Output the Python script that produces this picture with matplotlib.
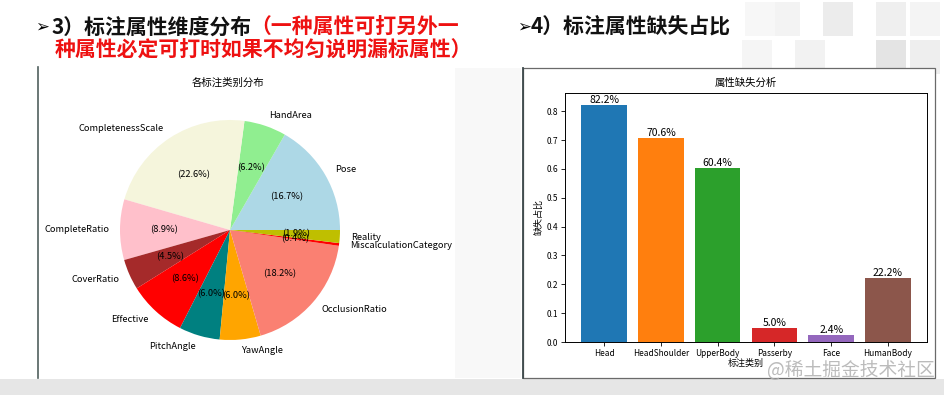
import matplotlib.pyplot as plt
import matplotlib.patches as mpatches

plt.rcParams['font.family'] = ['Noto Sans CJK SC', 'DejaVu Sans']

# pie data (counter-clockwise from 3 o'clock)
pie_labels = ['Pose', 'HandArea', 'CompletenessScale', 'CompleteRatio', 'CoverRatio',
              'Effective', 'PitchAngle', 'YawAngle', 'OcclusionRatio',
              'MiscalculationCategory', 'Reality']
pie_values = [16.7, 6.2, 22.6, 8.9, 4.5, 8.6, 6.0, 6.0, 18.2, 0.4, 1.9]
pie_colors = ['lightblue', 'lightgreen', 'beige', 'pink', 'brown', 'red', 'teal',
              'orange', 'salmon', 'red', 'y']

# bar data
bar_labels = ['Head', 'HeadShoulder', 'UpperBody', 'Passerby', 'Face', 'HumanBody']
bar_values = [0.822, 0.706, 0.604, 0.050, 0.024, 0.222]
bar_colors = ['#1f77b4', '#ff7f0e', '#2ca02c', '#d62728', '#9467bd', '#8c564b']

W, H = 945, 395
fig = plt.figure(figsize=(W / 100, H / 100), dpi=100)
fig.patch.set_facecolor('white')

def px(x, y, w, h):
    # pixel box (top-left origin) -> figure fraction
    return [x / W, 1 - (y + h) / H, w / W, h / H]

# slide background decoration
bg = fig.add_axes([0, 0, 1, 1])
bg.set_xlim(0, W)
bg.set_ylim(H, 0)
bg.axis('off')
bg.add_patch(mpatches.Rectangle((0, 379), W, 16, color='#e6e6e6', lw=0))
for (x, y, c) in [(770, 2, '#f3f3f3'), (823, 2, '#ececec'), (876, 2, '#efefef'),
                  (910, 2, '#f4f4f4'), (742, 40, '#f5f5f5'), (795, 40, '#f2f2f2'),
                  (876, 40, '#e4e4e4'), (910, 40, '#eeeeee'), (745, 2, '#f7f7f7')]:
    bg.add_patch(mpatches.Rectangle((x, y), 30, 34, color=c, lw=0))
bg.add_patch(mpatches.Rectangle((455, 68), 66, 310, color='#f8f8f8', lw=0))
# image frames
bg.plot([38, 38], [67, 378], color='#50605e', lw=1.2)
bg.add_patch(mpatches.Rectangle((38.5, 67), 416, 311, color='white', lw=0))
bg.add_patch(mpatches.Rectangle((523, 68), 412, 310, facecolor='white',
                                edgecolor='#6a6a6a', lw=0.9))
bg.plot([523, 523], [68, 378], color='#3e4a4c', lw=1.3)

# headings
fs = 15
fig.text(35 / W, 1 - 27 / H, '➢', fontsize=12, va='center', ha='left', color='black',
         family=['DejaVu Sans'], weight='bold')
fig.text(52 / W, 1 - 27 / H, '3）标注属性维度分布', fontsize=fs, va='center', ha='left',
         color='#111111', weight='bold')
fig.text(250 / W, 1 - 27 / H, '（一种属性可打另外一', fontsize=fs, va='center', ha='left',
         color='#ee1111', weight='bold')
fig.text(55 / W, 1 - 50 / H, '种属性必定可打时如果不均匀说明漏标属性）', fontsize=fs,
         va='center', ha='left', color='#ee1111', weight='bold')
fig.text(517 / W, 1 - 27 / H, '➢', fontsize=12, va='center', ha='left', color='black',
         family=['DejaVu Sans'], weight='bold')
fig.text(531 / W, 1 - 27 / H, '4）标注属性缺失占比', fontsize=fs, va='center', ha='left',
         color='#111111', weight='bold')

# pie chart
ax1 = fig.add_axes(px(230 - 137.5, 230 - 137.5, 275, 275))
ax1.pie(pie_values, labels=pie_labels, colors=pie_colors, autopct='(%1.1f%%)',
        startangle=0, textprops={'fontsize': 6.7})
ax1.set_aspect('equal')
fig.text(228 / W, 1 - 83 / H, '各标注类别分布', fontsize=7.5, ha='center', va='center')

# bar chart
ax2 = fig.add_axes(px(565, 93, 362, 249))
bars = ax2.bar(bar_labels, bar_values, color=bar_colors)
for b, v in zip(bars, bar_values):
    ax2.text(b.get_x() + b.get_width() / 2, v, '%.1f%%' % (v * 100),
             ha='center', va='bottom', fontsize=7.5)
ax2.set_title('属性缺失分析', fontsize=7.5, pad=5)
ax2.set_xlabel('标注类别', fontsize=6.5, labelpad=1)
ax2.set_ylabel('缺失占比', fontsize=6.5, labelpad=2)
ax2.tick_params(labelsize=6, length=3, width=0.6, pad=2)
for s in ax2.spines.values():
    s.set_linewidth(0.7)

# watermark
fig.text(851 / W, 1 - 370 / H, '@稀土掘金技术社区', fontsize=13.5, ha='center', va='center',
         color='#b0b0b0', alpha=0.85)

fig.savefig('out.png', dpi=100)
